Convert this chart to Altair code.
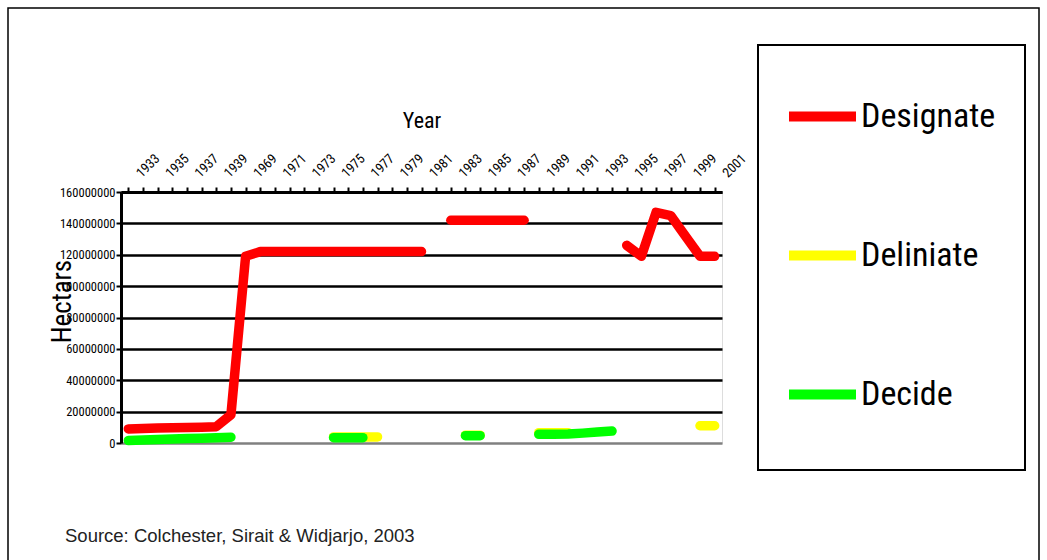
import altair as alt
import pandas as pd

# ---------------- data ----------------
years = ["1933", "1934", "1935", "1936", "1937", "1938", "1939", "1940"] + [str(y) for y in range(1969, 2002)]

M = 1_000_000
designate = [9.0, 9.2, 9.5, 9.7, 9.9, 10.1, 10.4, 18.0, 119.0,
             122, 122, 122, 122, 122, 122, 122, 122, 122, 122, 122, 122,
             None,
             142, 142, 142, 142, 142, 142,
             None, None, None, None, None, None,
             126, 119, 147, 145, 132, 119, 119]
deliniate = [None] * 14 + [3.9, 3.9, 3.9, 3.9] + [None] * 5 + [5.0, 5.0] + [None] * 3 + \
            [6.6, 6.6, 6.6] + [None] * 8 + [11.0, 11.0]
decide = [1.6, 1.9, 2.2, 2.5, 2.8, 3.1, 3.4, 3.7] + [None] * 6 + [3.4, 3.4, 3.4] + [None] * 6 + \
         [4.7, 4.7] + [None] * 3 + [5.5, 5.6, 5.7, 6.3, 7.0, 7.6] + [None] * 7

series_names = ["Designate", "Deliniate", "Decide"]
series_colors = ["#FF0000", "#FFFF00", "#00FF00"]
y_ticks = [0, 20 * M, 40 * M, 60 * M, 80 * M, 100 * M, 120 * M, 140 * M, 160 * M]
source_text = "Source: Colchester, Sirait & Widjarjo, 2003"

# ---------------- build long table with path segments ----------------
rows = []
for name, vals in zip(series_names, [designate, deliniate, decide]):
    seg = 0
    prev = None
    for yr, v in zip(years, vals):
        if v is None:
            if prev is not None:
                seg += 1
            prev = None
            continue
        rows.append({"year": yr, "value": v * M, "series": name, "seg": f"{name}-{seg}"})
        prev = v
df = pd.DataFrame(rows)

NARROW = "Roboto Condensed, Liberation Sans Narrow, Liberation Sans, Arial, sans-serif"
W, H = 601, 251

color = alt.Color(
    "series:N",
    scale=alt.Scale(domain=series_names, range=series_colors),
    legend=alt.Legend(
        title=None, orient="none", legendX=663, legendY=-114,
        symbolType="stroke", symbolSize=4489, symbolStrokeWidth=10,
        labelFont=NARROW, labelFontSize=34, labelColor="black", labelLimit=0,
        labelOffset=0, rowPadding=80, padding=0, symbolOpacity=1,
    ),
)

x_enc = alt.X(
    "year:N", sort=years, scale=alt.Scale(domain=years, paddingInner=0, paddingOuter=0),
    bandPosition=0.5,
    axis=alt.Axis(
        orient="top", title="Year", titleFont=NARROW, titleFontSize=22, titleFontWeight="normal",
        titleY=-72, titleBaseline="middle", titleColor="black",
        labelAngle=-45, labelAlign="left", labelBaseline="middle", labelOverlap=False,
        labelFont=NARROW, labelFontSize=13.5, labelColor="black", labelPadding=12, labelOffset=10,
        labelExpr="toNumber(datum.label) % 2 == 1 ? datum.label : ''",
        bandPosition=0, tickColor="black", tickWidth=2, tickSize=5,
        domainColor="black", domainWidth=3, grid=False,
    ),
)
y_enc = alt.Y(
    "value:Q", scale=alt.Scale(domain=[0, 160 * M], nice=False),
    axis=alt.Axis(
        values=y_ticks, format="d", title="Hectars", titleFont=NARROW, titleFontSize=27,
        titleFontWeight="normal", titleAngle=270, titleX=-59, titleY=109,
        titleAlign="center", titleBaseline="middle", titleColor="black",
        labelFont=NARROW, labelFontSize=12.5, labelColor="black", labelPadding=1,
        tickColor="black", tickWidth=2, tickSize=5, domainColor="black", domainWidth=3,
        grid=True, gridWidth=2.5,
        gridColor={"condition": {"test": "datum.value === 0", "value": "#808080"}, "value": "black"},
    ),
)

layers = []
for name in series_names:
    layers.append(
        alt.Chart(df).transform_filter(alt.datum.series == name)
        .mark_line(strokeWidth=9.5, strokeCap="round", strokeJoin="round", clip=False)
        .encode(x=x_enc, y=y_enc, color=color, detail="seg:N")
    )

legend_box = alt.Chart(pd.DataFrame({"k": [0]})).mark_rect(
    fill=None, stroke="black", strokeWidth=2
).encode(x=alt.value(637), x2=alt.value(904), y=alt.value(-147), y2=alt.value(278))

outer_box = alt.Chart(pd.DataFrame({"k": [0]})).mark_rect(
    fill=None, stroke="black", strokeWidth=1.5
).encode(x=alt.value(-113), x2=alt.value(918), y=alt.value(-184), y2=alt.value(420))

source = alt.Chart(pd.DataFrame({"t": [source_text]})).mark_text(
    align="left", baseline="middle", font="Liberation Sans, Arial, sans-serif", fontSize=18.5,
    color="#222222"
).encode(x=alt.value(-56), y=alt.value(344), text="t:N")

chart = alt.layer(outer_box, *layers, legend_box, source).properties(
    width=W, height=H,
    autosize=alt.AutoSizeParams(type="none"),
    padding={"left": 121, "top": 192, "right": 325, "bottom": 117},
).configure_view(
    fill="#C0C0C0", stroke="#808080", strokeWidth=2
).configure(background="white")

chart.save("out.html", embed_options={"renderer": "svg", "actions": False})
